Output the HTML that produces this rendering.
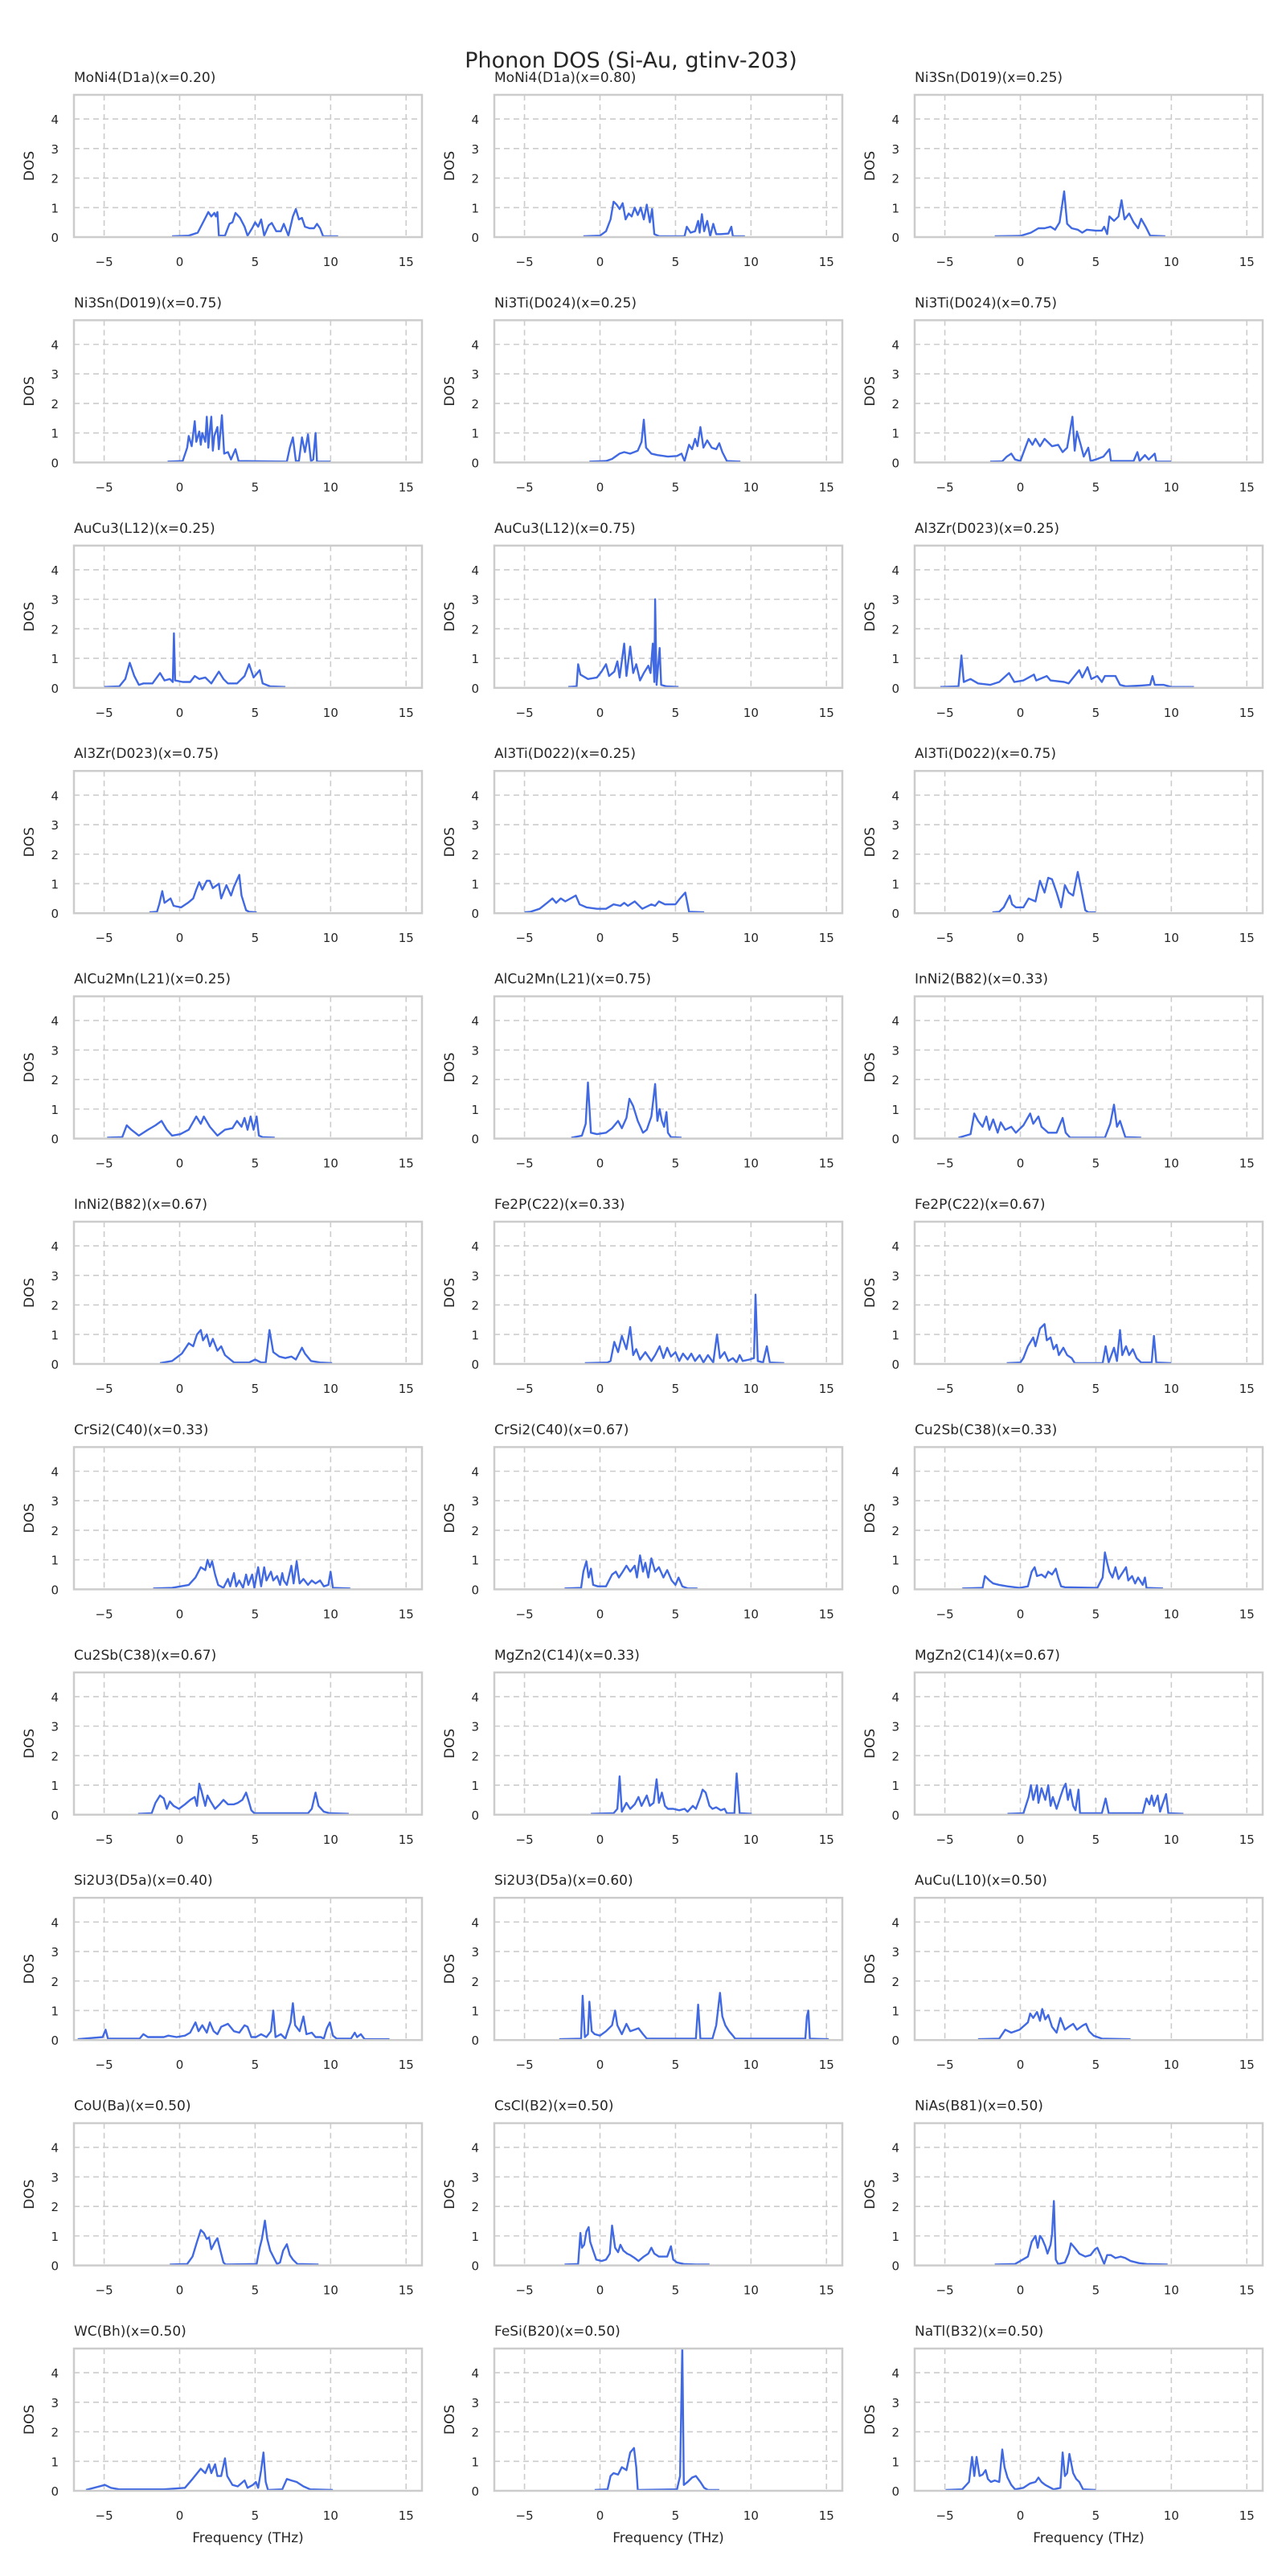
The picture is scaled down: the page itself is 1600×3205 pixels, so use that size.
<!DOCTYPE html>
<html><head><meta charset="utf-8"><title>Phonon DOS (Si-Au, gtinv-203)</title>
<style>
html,body{margin:0;padding:0;background:#fff;}
svg text{font-family:"DejaVu Sans","Liberation Sans",sans-serif;fill:#262626;}
</style></head>
<body>
<svg id="fig" xmlns="http://www.w3.org/2000/svg" width="1600" height="3200" viewBox="0 0 1600 3200">
<rect x="0" y="0" width="1600" height="3200" fill="#fff"/>
<text x="785" y="84" text-anchor="middle" font-size="27">Phonon DOS (Si-Au, gtinv-203)</text>
</svg>
<script>
const titles = ["MoNi4(D1a)(x=0.20)","MoNi4(D1a)(x=0.80)","Ni3Sn(D019)(x=0.25)","Ni3Sn(D019)(x=0.75)","Ni3Ti(D024)(x=0.25)","Ni3Ti(D024)(x=0.75)","AuCu3(L12)(x=0.25)","AuCu3(L12)(x=0.75)","Al3Zr(D023)(x=0.25)","Al3Zr(D023)(x=0.75)","Al3Ti(D022)(x=0.25)","Al3Ti(D022)(x=0.75)","AlCu2Mn(L21)(x=0.25)","AlCu2Mn(L21)(x=0.75)","InNi2(B82)(x=0.33)","InNi2(B82)(x=0.67)","Fe2P(C22)(x=0.33)","Fe2P(C22)(x=0.67)","CrSi2(C40)(x=0.33)","CrSi2(C40)(x=0.67)","Cu2Sb(C38)(x=0.33)","Cu2Sb(C38)(x=0.67)","MgZn2(C14)(x=0.33)","MgZn2(C14)(x=0.67)","Si2U3(D5a)(x=0.40)","Si2U3(D5a)(x=0.60)","AuCu(L10)(x=0.50)","CoU(Ba)(x=0.50)","CsCl(B2)(x=0.50)","NiAs(B81)(x=0.50)","WC(Bh)(x=0.50)","FeSi(B20)(x=0.50)","NaTl(B32)(x=0.50)"];
const xTicks = [-5,0,5,10,15];
const xTickLabels = ["\u22125","0","5","10","15"];
const yTicks = [0,1,2,3,4];
const yTickLabels = ["0","1","2","3","4"];
const xDomain = [-7.0, 16.05];
const yDomain = [0, 4.82];

const dos01=[[-0.5,.03],[0.6,.05],[1.2,.15],[1.6,.55],[1.9,.85],[2.1,.7],[2.3,.82],[2.4,.7],[2.5,.85],[2.6,.05],[3.0,.05],[3.3,.45],[3.5,.5],[3.7,.82],[4.0,.65],[4.3,.35],[4.5,.05],[4.8,.3],[5.0,.5],[5.2,.35],[5.4,.6],[5.6,.05],[5.9,.4],[6.1,.48],[6.4,.2],[6.7,.2],[6.9,.45],[7.2,.05],[7.5,.7],[7.7,.95],[7.9,.6],[8.1,.65],[8.3,.35],[8.6,.3],[8.9,.3],[9.1,.45],[9.3,.3],[9.5,.03],[10.5,.03]];
const dos02=[[-1.1,.03],[0,.05],[0.4,.2],[0.7,.6],[0.9,1.2],[1.1,1.1],[1.3,.95],[1.5,1.15],[1.7,.6],[1.9,.8],[2.1,.7],[2.3,1.0],[2.5,.75],[2.7,1.0],[2.9,.6],[3.1,1.1],[3.3,.5],[3.45,.95],[3.6,.1],[3.9,.03],[5.6,.03],[5.75,.35],[6.0,.15],[6.3,.2],[6.5,.55],[6.6,.15],[6.75,.78],[6.9,.2],[7.1,.55],[7.3,.03],[7.5,.45],[7.7,.1],[8.0,.1],[8.5,.12],[8.7,.35],[8.8,.03],[9.6,.03]];
const dos03=[[-1.7,.03],[0,.04],[0.7,.15],[1.2,.3],[1.6,.3],[2.0,.35],[2.3,.25],[2.6,.5],[2.9,1.55],[3.1,.45],[3.4,.3],[3.8,.25],[4.1,.15],[4.4,.25],[5.0,.22],[5.4,.22],[5.55,.35],[5.75,.1],[5.9,.7],[6.2,.55],[6.5,.7],[6.7,1.25],[6.9,.6],[7.2,.8],[7.5,.5],[7.8,.3],[8.0,.62],[8.3,.35],[8.6,.05],[9.6,.03]];
const dos04=[[-0.8,.03],[0.2,.05],[0.5,.5],[0.6,.9],[0.8,.55],[1.0,1.4],[1.1,.7],[1.3,1.05],[1.4,.6],[1.5,1.0],[1.7,.7],[1.8,1.55],[1.9,.5],[2.0,1.1],[2.1,1.55],[2.2,.4],[2.3,.9],[2.5,1.2],[2.6,.45],[2.8,1.6],[2.95,.3],[3.2,.35],[3.4,.1],[3.7,.45],[3.9,.05],[7.1,.03],[7.3,.5],[7.5,.85],[7.7,.05],[7.9,.05],[8.1,.85],[8.3,.35],[8.5,.95],[8.7,.05],[8.85,.1],[9.0,1.0],[9.1,.03],[10.0,.03]];
const dos05=[[-0.7,.03],[0.4,.05],[0.8,.12],[1.3,.3],[1.6,.35],[2.0,.3],[2.5,.4],[2.75,.7],[2.9,1.45],[3.05,.5],[3.4,.3],[3.8,.25],[4.5,.2],[5.1,.22],[5.4,.3],[5.6,.05],[5.9,.6],[6.1,.45],[6.3,.8],[6.45,.55],[6.65,1.2],[6.85,.5],[7.1,.75],[7.4,.5],[7.7,.45],[7.9,.65],[8.1,.35],[8.4,.05],[9.3,.03]];
const dos06=[[-2.0,.03],[-1.2,.04],[-0.9,.2],[-0.6,.3],[-0.35,.1],[0,.05],[0.4,.6],[0.55,.8],[0.8,.6],[1.0,.8],[1.3,.55],[1.6,.8],[1.9,.65],[2.1,.55],[2.5,.6],[2.8,.35],[3.1,.5],[3.45,1.55],[3.6,.4],[3.75,1.05],[4.0,.6],[4.2,.2],[4.5,.5],[4.65,.05],[5.0,.1],[5.5,.2],[5.9,.45],[6.0,.05],[7.5,.05],[7.75,.35],[7.9,.05],[8.25,.25],[8.5,.1],[8.9,.3],[9.0,.03],[10.0,.03]];
const dos07=[[-5.0,.03],[-4.0,.05],[-3.6,.3],[-3.3,.85],[-3.0,.4],[-2.7,.1],[-2.4,.15],[-1.8,.15],[-1.3,.5],[-1.0,.25],[-0.65,.3],[-0.45,.2],[-0.38,1.85],[-0.3,.25],[0.2,.2],[0.7,.2],[1.0,.4],[1.3,.3],[1.7,.35],[2.1,.15],[2.6,.55],[2.9,.3],[3.2,.15],[3.8,.15],[4.3,.4],[4.6,.8],[4.9,.35],[5.3,.6],[5.5,.15],[6.0,.05],[7.0,.03]];
const dos08=[[-2.1,.03],[-1.55,.05],[-1.45,.8],[-1.3,.45],[-0.8,.3],[-0.2,.35],[0.1,.55],[0.4,.8],[0.6,.4],[0.95,.55],[1.15,.9],[1.3,.35],[1.6,1.5],[1.75,.4],[2.0,1.4],[2.2,.5],[2.4,.8],[2.65,.25],[2.9,.5],[3.2,.75],[3.35,.5],[3.5,1.5],[3.6,.2],[3.65,3.0],[3.75,.1],[3.95,1.35],[4.05,.1],[4.4,.05],[5.2,.03]];
const dos09=[[-5.3,.03],[-4.1,.05],[-3.9,1.1],[-3.75,.2],[-3.3,.3],[-2.8,.15],[-2.0,.1],[-1.4,.2],[-0.75,.5],[-0.4,.2],[0.2,.25],[0.9,.45],[1.05,.25],[1.75,.4],[2.0,.25],[2.9,.2],[3.2,.15],[3.9,.6],[4.1,.35],[4.45,.7],[4.7,.3],[5.1,.4],[5.4,.2],[5.6,.4],[6.3,.4],[6.6,.1],[7.0,.05],[8.0,.08],[8.6,.1],[8.75,.4],[8.9,.1],[9.5,.1],[10.0,.03],[11.5,.03]];
const dos10=[[-2.0,.03],[-1.5,.05],[-1.35,.3],[-1.15,.75],[-1.0,.35],[-0.6,.5],[-0.4,.25],[0.1,.2],[0.55,.35],[0.9,.5],[1.1,.8],[1.3,1.05],[1.5,.8],[1.8,1.1],[2.0,1.1],[2.2,.85],[2.6,1.0],[2.75,.5],[3.1,.95],[3.4,.6],[3.6,.9],[3.95,1.3],[4.1,.6],[4.4,.1],[4.6,.05],[5.1,.03]];
const dos11=[[-5.0,.03],[-4.6,.05],[-4.0,.15],[-3.5,.35],[-3.15,.5],[-2.9,.35],[-2.6,.5],[-2.3,.4],[-1.6,.6],[-1.35,.3],[-0.9,.2],[-0.2,.15],[0.4,.15],[0.9,.3],[1.35,.25],[1.6,.35],[1.85,.25],[2.3,.4],[2.8,.15],[3.4,.3],[3.65,.25],[3.9,.4],[4.3,.3],[5.0,.3],[5.3,.5],[5.65,.7],[5.9,.05],[6.9,.03]];
const dos12=[[-1.85,.03],[-1.4,.05],[-1.1,.2],[-0.7,.6],[-0.55,.3],[-0.3,.2],[0.2,.2],[0.55,.5],[1.0,.4],[1.3,1.1],[1.6,.7],[1.85,1.2],[2.1,1.15],[2.4,.7],[2.7,.2],[2.95,.95],[3.2,.7],[3.5,.6],[3.8,1.4],[4.0,.9],[4.3,.1],[4.5,.03],[5.0,.03]];
const dos13=[[-4.8,.03],[-3.8,.05],[-3.5,.45],[-3.2,.3],[-2.7,.1],[-2.1,.3],[-1.6,.45],[-1.2,.6],[-0.85,.3],[-0.5,.1],[0.05,.15],[0.6,.3],[1.1,.75],[1.4,.5],[1.6,.75],[2.0,.4],[2.5,.1],[3.0,.3],[3.5,.35],[3.8,.6],[4.1,.4],[4.3,.7],[4.5,.3],[4.7,.75],[4.9,.3],[5.1,.75],[5.25,.1],[5.5,.05],[6.3,.03]];
const dos14=[[-1.9,.03],[-1.2,.1],[-0.95,.5],[-0.8,1.9],[-0.6,.2],[-0.2,.15],[0.4,.2],[0.8,.35],[1.2,.6],[1.45,.35],[1.75,.7],[1.95,1.35],[2.2,1.1],[2.5,.6],[2.85,.2],[3.1,.3],[3.4,.75],[3.65,1.85],[3.8,.6],[3.95,1.0],[4.1,.6],[4.25,.4],[4.4,.9],[4.5,.2],[4.7,.05],[5.4,.03]];
const dos15=[[-4.1,.03],[-3.3,.15],[-3.05,.85],[-2.8,.6],[-2.5,.4],[-2.25,.75],[-2.05,.3],[-1.8,.65],[-1.5,.2],[-1.3,.55],[-1.0,.3],[-0.6,.4],[-0.3,.2],[0.2,.45],[0.65,.85],[0.85,.5],[1.2,.75],[1.4,.4],[1.85,.2],[2.4,.2],[2.8,.7],[3.0,.2],[3.3,.03],[5.6,.03],[5.95,.5],[6.2,1.15],[6.4,.4],[6.6,.6],[6.95,.05],[8.0,.03]];
const dos16=[[-1.3,.03],[-0.5,.1],[0.15,.35],[0.6,.7],[0.9,.6],[1.15,1.0],[1.4,1.15],[1.55,.8],[1.8,1.0],[2.0,.6],[2.2,.85],[2.5,.45],[2.75,.6],[3.0,.3],[3.6,.05],[4.6,.05],[5.0,.15],[5.4,.05],[5.7,.05],[5.95,1.15],[6.2,.4],[6.6,.25],[7.0,.2],[7.4,.25],[7.7,.15],[8.1,.55],[8.3,.35],[8.7,.1],[9.3,.05],[10.1,.03]];
const dos17=[[-1.0,.03],[0.5,.05],[0.7,.1],[0.95,.75],[1.2,.4],[1.45,.95],[1.75,.5],[2.0,1.25],[2.2,.3],[2.4,.5],[2.65,.15],[3.0,.4],[3.4,.1],[3.65,.3],[3.95,.6],[4.2,.2],[4.45,.55],[4.7,.25],[5.0,.4],[5.25,.1],[5.5,.35],[5.8,.15],[6.05,.35],[6.3,.1],[6.6,.3],[6.85,.05],[7.15,.3],[7.5,.05],[7.75,1.0],[7.95,.2],[8.25,.4],[8.5,.1],[8.8,.2],[9.05,.05],[9.25,.3],[9.45,.1],[9.9,.15],[10.2,.2],[10.3,2.35],[10.45,.1],[10.8,.05],[11.05,.6],[11.25,.05],[12.2,.03]];
const dos18=[[-0.9,.03],[0,.05],[0.2,.2],[0.5,.6],[0.85,.9],[1.0,.6],[1.3,1.2],[1.6,1.35],[1.75,.8],[2.0,.9],[2.2,.5],[2.4,.65],[2.55,.3],[2.85,.55],[3.1,.3],[3.4,.2],[3.6,.03],[5.45,.03],[5.65,.6],[5.85,.05],[6.2,.55],[6.4,.1],[6.6,1.15],[6.75,.3],[7.0,.6],[7.2,.3],[7.45,.5],[7.7,.2],[8.0,.05],[8.7,.05],[8.85,.95],[9.0,.05],[10.0,.03]];
const dos19=[[-1.75,.03],[-0.5,.05],[0.6,.15],[1.05,.4],[1.4,.75],[1.7,.65],[1.85,1.0],[2.0,.75],[2.15,.95],[2.35,.5],[2.55,.15],[2.9,.05],[3.2,.35],[3.35,.1],[3.6,.55],[3.75,.1],[3.95,.3],[4.2,.05],[4.4,.5],[4.55,.15],[4.8,.5],[4.95,.05],[5.2,.75],[5.4,.1],[5.6,.75],[5.75,.3],[6.05,.6],[6.2,.3],[6.45,.45],[6.65,.15],[6.8,.55],[6.9,.3],[7.1,.15],[7.4,.8],[7.55,.2],[7.75,.95],[7.95,.2],[8.2,.35],[8.5,.15],[8.75,.3],[9.0,.2],[9.3,.3],[9.55,.1],[9.85,.15],[10.0,.6],[10.15,.05],[11.3,.03]];
const dos20=[[-2.35,.03],[-1.25,.05],[-1.1,.6],[-0.9,.95],[-0.75,.4],[-0.6,.7],[-0.45,.15],[-0.15,.1],[0.4,.1],[0.8,.5],[1.05,.6],[1.25,.4],[1.45,.55],[1.75,.8],[2.0,.6],[2.3,.8],[2.45,.4],[2.65,1.15],[2.85,.6],[3.0,.9],[3.2,.4],[3.4,1.05],[3.65,.6],[3.9,.75],[4.2,.4],[4.45,.65],[4.75,.3],[5.0,.15],[5.2,.4],[5.45,.1],[5.8,.03],[6.45,.03]];
const dos21=[[-3.85,.03],[-2.5,.05],[-2.35,.45],[-2.05,.3],[-1.8,.2],[-1.4,.15],[-0.85,.1],[-0.05,.05],[0.5,.1],[0.75,.6],[0.95,.75],[1.1,.45],[1.4,.5],[1.65,.4],[1.85,.6],[2.1,.5],[2.35,.7],[2.5,.4],[2.7,.1],[2.95,.07],[5.1,.05],[5.45,.4],[5.6,1.25],[5.75,.9],[5.9,.6],[6.1,.4],[6.3,.75],[6.5,.35],[6.75,.55],[7.0,.75],[7.15,.3],[7.4,.45],[7.6,.2],[7.8,.4],[8.1,.15],[8.25,.4],[8.35,.05],[9.45,.03]];
const dos22=[[-2.75,.03],[-1.85,.05],[-1.6,.4],[-1.3,.65],[-1.05,.55],[-0.85,.2],[-0.65,.45],[-0.4,.3],[-0.05,.2],[0.35,.35],[0.7,.5],[1.0,.6],[1.15,.3],[1.3,1.05],[1.45,.8],[1.7,.3],[1.85,.65],[2.05,.45],[2.35,.2],[2.65,.35],[2.9,.5],[3.2,.35],[3.6,.35],[3.85,.4],[4.15,.5],[4.4,.75],[4.55,.5],[4.75,.15],[4.95,.05],[8.5,.05],[8.75,.2],[9.0,.75],[9.2,.3],[9.55,.1],[9.95,.05],[11.2,.03]];
const dos23=[[-0.6,.03],[0.9,.05],[1.15,.2],[1.3,1.3],[1.45,.1],[1.75,.4],[2.0,.2],[2.3,.35],[2.55,.6],[2.75,.3],[3.1,.65],[3.3,.3],[3.55,.4],[3.75,1.2],[3.9,.4],[4.1,.75],[4.3,.3],[4.5,.2],[4.85,.2],[5.25,.15],[5.6,.2],[5.8,.1],[6.15,.3],[6.35,.2],[6.65,.6],[6.8,.85],[7.0,.75],[7.25,.3],[7.45,.2],[7.7,.25],[8.0,.15],[8.25,.2],[8.4,.05],[8.9,.05],[9.05,1.4],[9.25,.05],[10.05,.03]];
const dos24=[[-0.85,.03],[0.2,.05],[0.55,.6],[0.7,1.0],[0.85,.5],[1.1,1.0],[1.2,.4],[1.4,.9],[1.65,.5],[1.85,1.0],[2.0,.3],[2.15,.6],[2.4,.2],[2.65,.6],[2.85,.9],[3.0,1.05],[3.15,.5],[3.3,.85],[3.5,.3],[3.65,.15],[3.85,.85],[3.95,.05],[5.4,.05],[5.65,.55],[5.85,.05],[8.1,.05],[8.35,.55],[8.55,.35],[8.7,.65],[8.85,.3],[9.1,.65],[9.25,.1],[9.45,.4],[9.65,.7],[9.8,.05],[10.8,.03]];
const dos25=[[-6.75,.03],[-5.1,.1],[-4.9,.35],[-4.75,.05],[-2.65,.05],[-2.4,.2],[-2.1,.1],[-1.05,.1],[-0.75,.15],[-0.2,.1],[0.35,.15],[0.7,.25],[1.05,.6],[1.25,.3],[1.5,.5],[1.8,.25],[2.0,.6],[2.25,.3],[2.5,.2],[2.75,.45],[3.2,.55],[3.6,.3],[3.95,.25],[4.3,.5],[4.5,.45],[4.75,.1],[5.05,.1],[5.4,.2],[5.75,.1],[6.05,.3],[6.2,1.0],[6.35,.1],[6.7,.2],[7.0,.05],[7.35,.6],[7.5,1.25],[7.65,.5],[7.95,.3],[8.2,.8],[8.4,.2],[8.75,.25],[9.0,.1],[9.35,.1],[9.55,.05],[9.75,.4],[9.95,.6],[10.15,.15],[10.4,.05],[11.35,.05],[11.6,.25],[11.75,.1],[12.0,.2],[12.25,.03],[13.9,.03]];
const dos26=[[-2.7,.03],[-1.25,.05],[-1.15,1.5],[-1.0,.1],[-0.8,.2],[-0.7,1.3],[-0.55,.3],[-0.35,.2],[0,.15],[0.4,.3],[0.8,.5],[1.0,1.0],[1.15,.5],[1.45,.2],[1.75,.55],[2.0,.3],[2.3,.35],[2.55,.4],[2.85,.2],[3.1,.05],[6.35,.05],[6.5,1.2],[6.65,.05],[7.45,.05],[7.7,.5],[7.95,1.6],[8.1,.8],[8.3,.5],[8.55,.3],[8.8,.15],[8.95,.05],[13.6,.05],[13.7,.8],[13.8,1.0],[13.9,.05],[15.15,.03]];
const dos27=[[-2.8,.03],[-1.4,.05],[-1.0,.35],[-0.6,.25],[-0.05,.35],[0.5,.6],[0.65,.9],[0.85,.75],[1.1,.95],[1.3,.65],[1.45,1.05],[1.65,.7],[1.85,.85],[2.1,.45],[2.4,.25],[2.65,.75],[2.95,.35],[3.2,.45],[3.5,.55],[3.75,.35],[4.15,.5],[4.35,.55],[4.55,.3],[4.85,.15],[5.4,.05],[7.3,.03]];
const dos28=[[-0.65,.03],[0.5,.05],[0.85,.3],[1.15,.8],[1.4,1.2],[1.6,1.1],[1.8,.9],[1.95,.95],[2.1,.55],[2.35,.8],[2.5,.92],[2.65,.6],[2.9,.1],[3.05,.03],[5.1,.05],[5.3,.6],[5.45,.9],[5.65,1.52],[5.8,.9],[6.0,.5],[6.3,.2],[6.45,.05],[6.65,.1],[6.85,.5],[7.1,.72],[7.3,.35],[7.5,.2],[7.8,.05],[9.2,.03]];
const dos29=[[-2.35,.03],[-1.45,.05],[-1.3,1.1],[-1.2,.6],[-1.05,.7],[-0.9,1.15],[-0.75,1.3],[-0.65,.8],[-0.45,.5],[-0.25,.2],[0.1,.15],[0.4,.2],[0.65,.4],[0.8,1.35],[1.0,.6],[1.2,.45],[1.35,.7],[1.55,.5],[1.8,.4],[2.0,.35],[2.3,.25],[2.55,.15],[2.9,.3],[3.2,.4],[3.4,.6],[3.6,.4],[3.9,.3],[4.2,.3],[4.45,.3],[4.7,.65],[4.85,.2],[5.1,.1],[5.55,.05],[6.35,.03],[7.25,.03]];
const dos30=[[-1.7,.03],[-0.35,.05],[0.5,.3],[0.75,.8],[1.0,1.0],[1.15,.6],[1.3,1.0],[1.45,.9],[1.65,.65],[1.8,.4],[2.0,.7],[2.1,1.05],[2.22,2.18],[2.35,.2],[2.5,.05],[2.95,.1],[3.2,.4],[3.35,.75],[3.6,.6],[3.9,.4],[4.3,.3],[4.65,.35],[4.95,.55],[5.1,.6],[5.35,.3],[5.55,.05],[5.75,.35],[6.0,.35],[6.3,.25],[6.65,.3],[6.95,.25],[7.3,.15],[7.85,.08],[8.35,.05],[9.75,.03]];
const dos31=[[-6.2,.03],[-4.95,.2],[-4.55,.1],[-4.0,.05],[-1.05,.05],[0.35,.1],[0.85,.4],[1.4,.75],[1.7,.6],[1.95,.9],[2.1,.6],[2.35,.9],[2.5,.5],[2.75,.5],[3.0,1.1],[3.15,.5],[3.5,.2],[3.85,.15],[4.3,.35],[4.5,.1],[4.85,.2],[5.05,.3],[5.2,.1],[5.4,.7],[5.55,1.3],[5.7,.3],[5.85,.03],[6.8,.05],[7.1,.4],[7.4,.35],[7.75,.3],[8.2,.15],[8.65,.05],[10.15,.03]];
const dos32=[[-0.35,.03],[0.5,.05],[0.7,.5],[0.9,.6],[1.2,.55],[1.45,.8],[1.75,.7],[2.0,1.3],[2.25,1.45],[2.4,.8],[2.5,.03],[5.1,.05],[5.3,.5],[5.45,4.9],[5.55,.2],[5.8,.3],[6.1,.45],[6.35,.5],[6.65,.3],[6.9,.1],[7.15,.03],[7.9,.03]];
const dos33=[[-4.95,.03],[-3.85,.05],[-3.4,.3],[-3.2,1.15],[-3.05,.5],[-2.9,1.15],[-2.7,.5],[-2.5,.55],[-2.3,.7],[-2.15,.4],[-1.95,.3],[-1.7,.35],[-1.4,.3],[-1.2,1.4],[-1.05,.8],[-0.85,.45],[-0.6,.2],[-0.35,.05],[0.2,.1],[0.65,.25],[1.0,.3],[1.2,.45],[1.4,.3],[1.65,.2],[2.2,.05],[2.65,.1],[2.8,1.3],[2.95,.5],[3.1,.6],[3.25,1.25],[3.5,.6],[3.7,.4],[3.9,.3],[4.15,.05],[5.0,.03]];
const series = [dos01,dos02,dos03,dos04,dos05,dos06,dos07,dos08,dos09,dos10,dos11,dos12,dos13,dos14,dos15,dos16,dos17,dos18,dos19,dos20,dos21,dos22,dos23,dos24,dos25,dos26,dos27,dos28,dos29,dos30,dos31,dos32,dos33];

const NS = "http://www.w3.org/2000/svg";
const svg = document.getElementById("fig");
const PW = 433, PH = 177, COL0 = 92, COLSTEP = 523, ROW0 = 118, ROWSTEP = 280.4;
function xScale(v, left){ return left + (v - xDomain[0]) / (xDomain[1] - xDomain[0]) * PW; }
function yScale(v, top){ return top + PH - (v - yDomain[0]) / (yDomain[1] - yDomain[0]) * PH; }
function mk(tag, attrs){ const e = document.createElementNS(NS, tag); for (const k in attrs) e.setAttribute(k, attrs[k]); return e; }

const defs = mk("defs", {});
svg.appendChild(defs);

titles.forEach((t, i) => {
  const r = Math.floor(i / 3), c = i % 3;
  const left = COL0 + COLSTEP * c, top = ROW0 + ROWSTEP * r, bottom = top + PH;
  const g = mk("g", {});
  
  
  svg.appendChild(g);

  const cp = mk("clipPath", {id: "clip" + i});
  cp.appendChild(mk("rect", {x: left, y: top, width: PW, height: PH}));
  defs.appendChild(cp);

  xTicks.forEach(v => {
    const x = xScale(v, left);
    const gl = mk("line", {x1: x, x2: x, y1: top, y2: bottom, stroke: "#cccccc", "stroke-width": 1.6, "stroke-dasharray": "7,5"});
    
    
    g.appendChild(gl);
  });
  yTicks.forEach(v => {
    if (v === 0) return;
    const y = yScale(v, top);
    const gl = mk("line", {x1: left, x2: left + PW, y1: y, y2: y, stroke: "#cccccc", "stroke-width": 1.6, "stroke-dasharray": "7,5"});
    
    
    g.appendChild(gl);
  });

  const pts = series[i].map(p => xScale(p[0], left).toFixed(1) + "," + yScale(p[1], top).toFixed(1)).join(" ");
  const line = mk("polyline", {points: pts, fill: "none", stroke: "#4169e1", "stroke-width": 2.4, "stroke-linejoin": "round", "clip-path": "url(#clip" + i + ")"});
  
  
  g.appendChild(line);

  const frame = mk("rect", {x: left, y: top, width: PW, height: PH, fill: "none", stroke: "#cccccc", "stroke-width": 2.5});
  
  
  g.appendChild(frame);

  xTicks.forEach((v, k) => {
    const tl = mk("text", {x: xScale(v, left), y: bottom + 36, "text-anchor": "middle", "font-size": 15});
    tl.textContent = xTickLabels[k];
    
    
    g.appendChild(tl);
  });
  yTicks.forEach((v, k) => {
    const tl = mk("text", {x: left - 19, y: yScale(v, top) + 6, "text-anchor": "end", "font-size": 15});
    tl.textContent = yTickLabels[k];
    
    
    g.appendChild(tl);
  });

  const yl = mk("text", {x: 0, y: 0, "text-anchor": "middle", "font-size": 17, transform: "translate(" + (left - 50) + "," + (top + PH / 2) + ") rotate(-90)"});
  yl.textContent = "DOS";
  
  
  g.appendChild(yl);

  const tt = mk("text", {x: left, y: top - 16, "font-size": 17});
  tt.textContent = t;
  
  
  g.appendChild(tt);

  if (r === 10) {
    const xl = mk("text", {x: left + PW / 2, y: bottom + 64, "text-anchor": "middle", "font-size": 17});
    xl.textContent = "Frequency (THz)";
    
    
    g.appendChild(xl);
  }
});
</script>
</body></html>
